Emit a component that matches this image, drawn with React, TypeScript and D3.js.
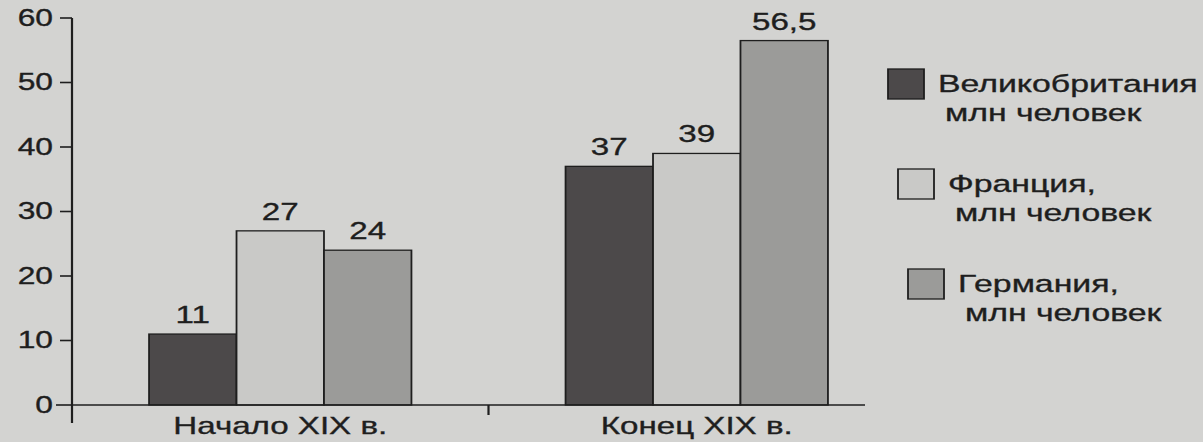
import * as d3 from 'd3';

// Horizontal stretch of the photographed page: text and shapes look ~1.38x wider than tall
const SX = 1.38;
const WIDTH = 1203;
const HEIGHT = 442;
const VW = WIDTH / SX;
const px = (v: number) => v / SX;

const BG = '#d3d3d1';
const INK = '#1e1e1e';
const FONT = '"Liberation Sans", Arial, sans-serif';

const categories = ['Начало XIX в.', 'Конец XIX в.'];
const seriesNames = ['Великобритания', 'Франция,', 'Германия,'];
const seriesUnit = 'млн человек';
const seriesColors = ['#4c494a', '#c9c9c7', '#9b9b99'];
const britain = [11, 37];
const france = [27, 39];
const germany = [24, 56.5];
const valueLabels = [
  ['11', '37'],
  ['27', '39'],
  ['24', '56,5'],
];
const yTicks = [0, 10, 20, 30, 40, 50, 60];

const series = [britain, france, germany];

// printed text looks a little heavier than plain regular weight
const textStyle = { stroke: INK, strokeWidth: 0.35 };

export default function App() {
  const axisX = px(72);
  const y = d3.scaleLinear().domain([0, 60]).range([405, 18]);
  const x0 = d3
    .scaleBand<string>()
    .domain(categories)
    .range([px(72), px(905)])
    .paddingInner(0.37)
    .paddingOuter(0.185);
  const x1 = d3
    .scaleBand<number>()
    .domain(d3.range(series.length))
    .range([0, x0.bandwidth()]);

  const midTick = (x0(categories[0])! + x0.bandwidth() + x0(categories[1])!) / 2;

  return (
    <div style={{ position: 'fixed', left: 0, top: 0 }}>
      <svg
        width={WIDTH}
        height={HEIGHT}
        viewBox={`0 0 ${VW} ${HEIGHT}`}
        preserveAspectRatio="none"
        style={{ display: 'block' }}
        fontFamily={FONT}
      >
        <rect x={0} y={0} width={VW} height={HEIGHT} fill={BG} />

        {/* bars */}
        {series.map((vals, si) =>
          categories.map((c, ci) => (
            <rect
              key={`${si}-${ci}`}
              x={x0(c)! + x1(si)!}
              y={y(vals[ci])}
              width={x1.bandwidth()}
              height={y(0) - y(vals[ci])}
              fill={seriesColors[si]}
              stroke={INK}
              strokeWidth={1.3}
            />
          ))
        )}

        {/* value labels */}
        {series.map((vals, si) =>
          categories.map((c, ci) => (
            <text
              key={`l${si}-${ci}`}
              x={x0(c)! + x1(si)! + x1.bandwidth() / 2}
              y={y(vals[ci]) - 11}
              textAnchor="middle"
              fontSize={24}
              fill={INK}
              {...textStyle}
            >
              {valueLabels[si][ci]}
            </text>
          ))
        )}

        {/* y axis */}
        <line x1={axisX} x2={axisX} y1={y(60)} y2={y(0) + 18} stroke={INK} strokeWidth={1.6} />
        {yTicks.map((t) => (
          <g key={t}>
            <line
              x1={axisX - px(t === 0 ? 16 : 12)}
              x2={axisX}
              y1={y(t)}
              y2={y(t)}
              stroke={INK}
              strokeWidth={1.6}
            />
            <text
              x={axisX - px(19)}
              y={y(t) + 8}
              textAnchor="end"
              fontSize={23}
              fill={INK}
              {...textStyle}
            >
              {t}
            </text>
          </g>
        ))}

        {/* x axis */}
        <line x1={axisX} x2={px(865)} y1={y(0)} y2={y(0)} stroke={INK} strokeWidth={1.6} />
        <line x1={midTick} x2={midTick} y1={y(0)} y2={y(0) + 10} stroke={INK} strokeWidth={1.6} />
        {categories.map((c) => (
          <text
            key={c}
            x={x0(c)! + x0.bandwidth() / 2}
            y={y(0) + 29}
            textAnchor="middle"
            fontSize={24}
            fill={INK}
            {...textStyle}
          >
            {c}
          </text>
        ))}

        {/* legend */}
        {seriesNames.map((name, i) => {
          const sx = px(888 + i * 10);
          const sy = 69 + i * 100;
          const tx = sx + px(50);
          return (
            <g key={name}>
              <rect
                x={sx}
                y={sy}
                width={px(36)}
                height={30}
                fill={seriesColors[i]}
                stroke={INK}
                strokeWidth={1.3}
              />
              <text x={tx} y={sy + 23} fontSize={24.5} fill={INK} {...textStyle}>
                {name}
              </text>
              <text x={tx + px(7)} y={sy + 52} fontSize={24.5} fill={INK} {...textStyle}>
                {seriesUnit}
              </text>
            </g>
          );
        })}
      </svg>
    </div>
  );
}
